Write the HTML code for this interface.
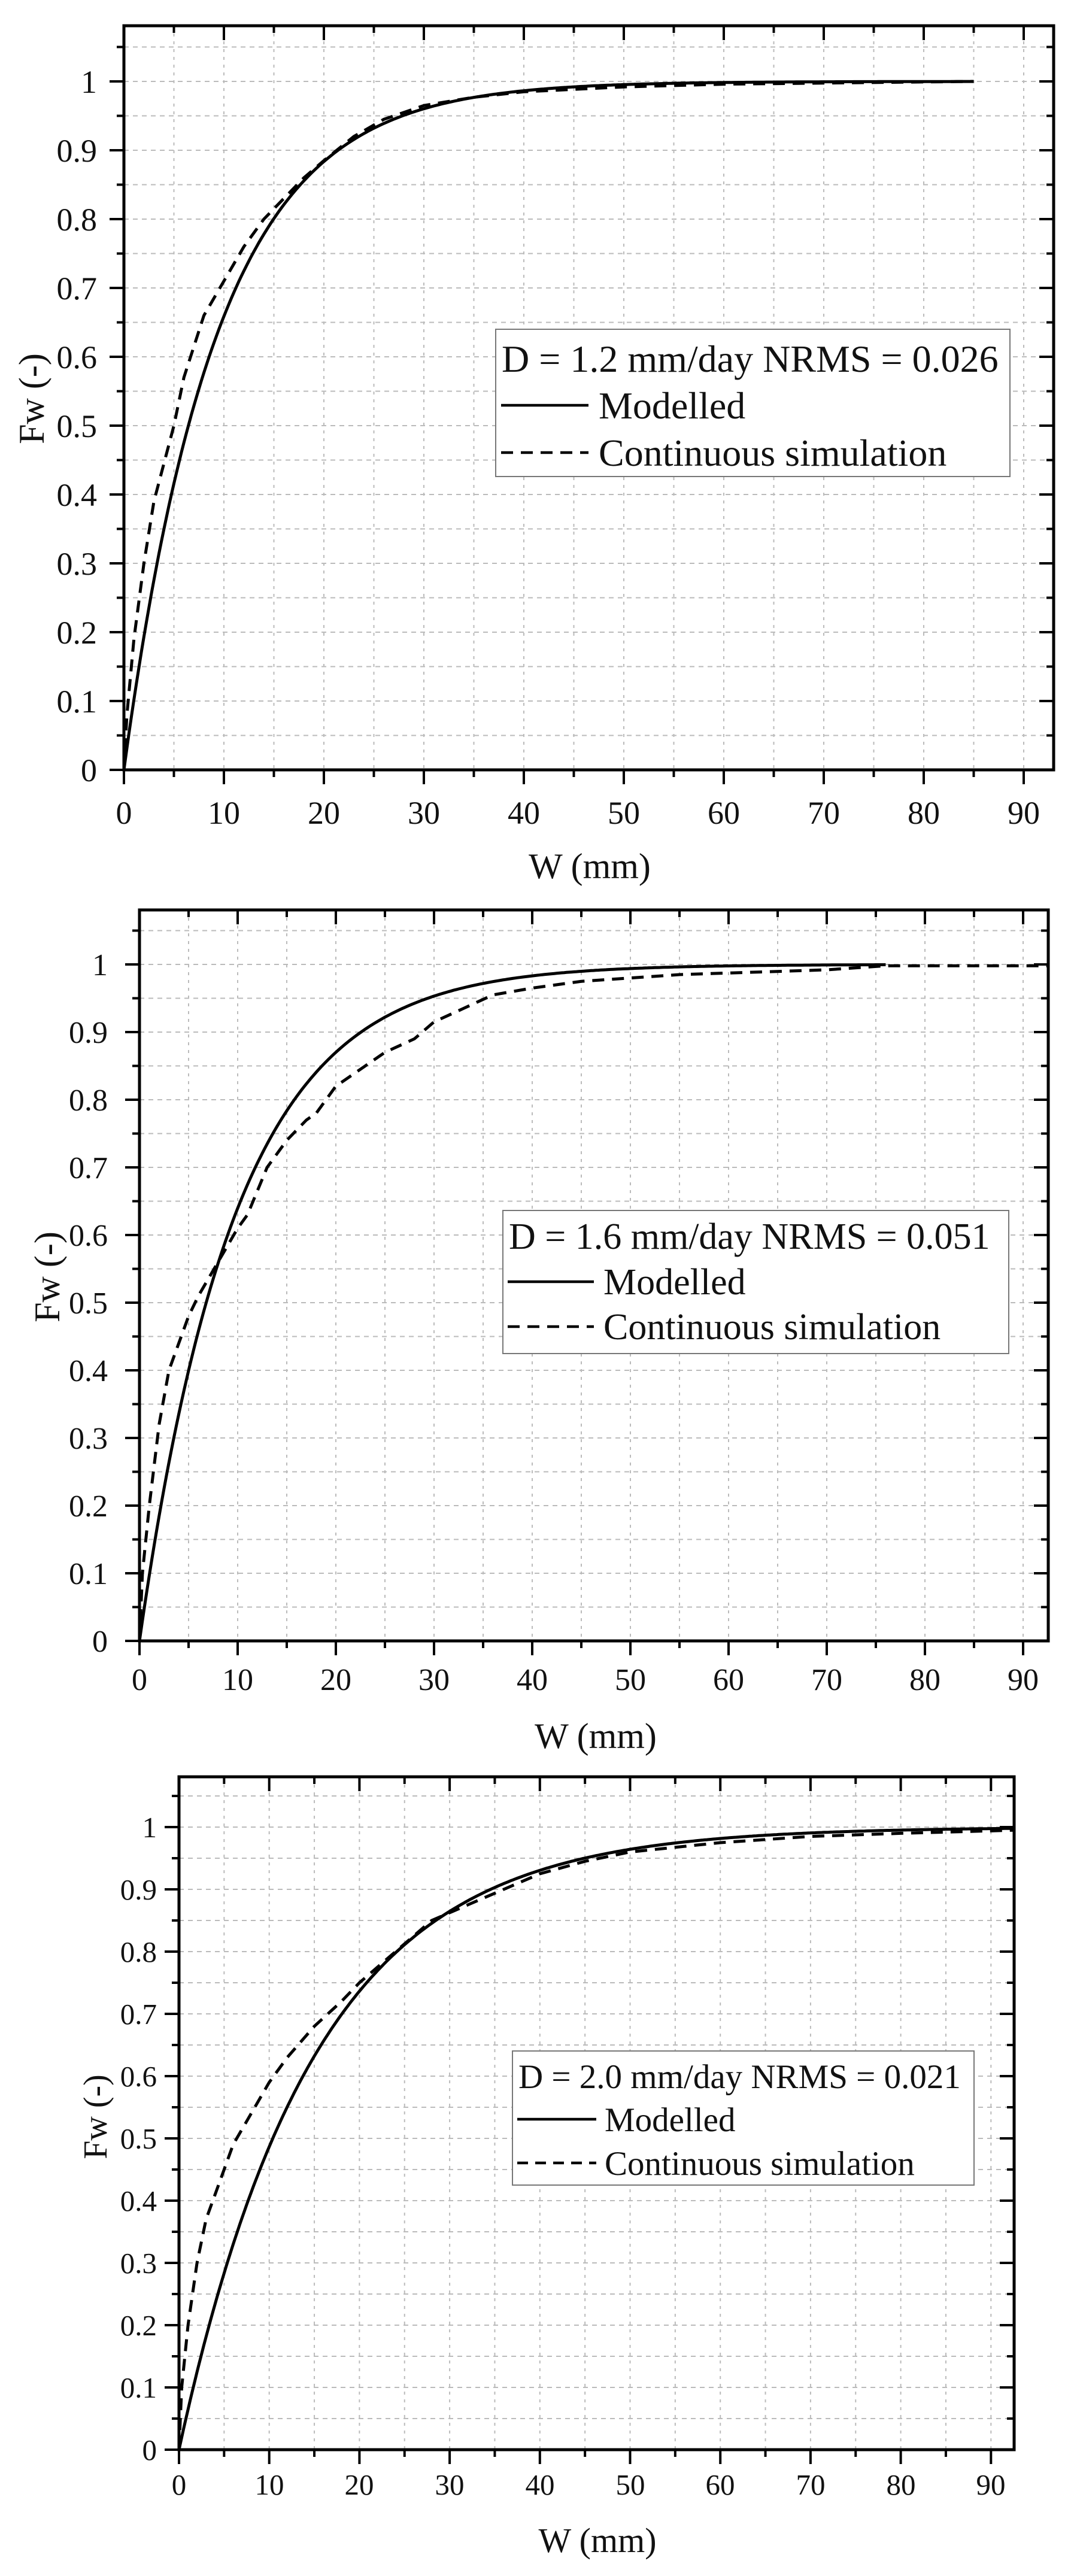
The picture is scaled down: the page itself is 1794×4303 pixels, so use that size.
<!DOCTYPE html>
<html><head><meta charset="utf-8"><style>
html,body{margin:0;padding:0;background:#fff}
svg{display:block}
text{font-family:"Liberation Serif",serif;fill:#111}
</style></head><body>
<svg id="s" width="1794" height="4303" viewBox="0 0 1794 4303" xmlns="http://www.w3.org/2000/svg">
<rect width="1794" height="4303" fill="#fff"/>
<g id="g1"></g><g id="g2"></g><g id="g3"></g>

<!-- Chart 1 text -->
<g font-size="54" text-anchor="middle">
<text x="207" y="1376">0</text><text x="374" y="1376">10</text><text x="541" y="1376">20</text><text x="708" y="1376">30</text><text x="875" y="1376">40</text><text x="1042" y="1376">50</text><text x="1209" y="1376">60</text><text x="1376" y="1376">70</text><text x="1543" y="1376">80</text><text x="1710" y="1376">90</text>
</g>
<g font-size="54" text-anchor="end">
<text x="162" y="1305">0</text><text x="162" y="1190">0.1</text><text x="162" y="1075">0.2</text><text x="162" y="960">0.3</text><text x="162" y="845">0.4</text><text x="162" y="730">0.5</text><text x="162" y="615">0.6</text><text x="162" y="500">0.7</text><text x="162" y="385">0.8</text><text x="162" y="270">0.9</text><text x="162" y="155">1</text>
</g>
<text x="985" y="1467" font-size="60" text-anchor="middle">W (mm)</text>
<text transform="translate(73,666) rotate(-90)" font-size="60" text-anchor="middle">Fw (-)</text>
<rect x="828" y="550" width="859" height="246" fill="#fff" stroke="#777" stroke-width="2"/>
<text x="838" y="621" font-size="64">D = 1.2 mm/day NRMS = 0.026</text>
<line x1="837" y1="677" x2="983" y2="677" stroke="#000" stroke-width="4.5"/>
<text x="1000" y="699" font-size="64">Modelled</text>
<line x1="837" y1="756" x2="983" y2="756" stroke="#000" stroke-width="4.5" stroke-dasharray="20,13"/>
<text x="1000" y="778" font-size="64">Continuous simulation</text>

<!-- Chart 2 text -->
<g font-size="52" text-anchor="middle">
<text x="233" y="2823">0</text><text x="397" y="2823">10</text><text x="561" y="2823">20</text><text x="725" y="2823">30</text><text x="889" y="2823">40</text><text x="1053" y="2823">50</text><text x="1217" y="2823">60</text><text x="1381" y="2823">70</text><text x="1545" y="2823">80</text><text x="1709" y="2823">90</text>
</g>
<g font-size="52" text-anchor="end">
<text x="180" y="2759">0</text><text x="180" y="2646">0.1</text><text x="180" y="2533">0.2</text><text x="180" y="2420">0.3</text><text x="180" y="2307">0.4</text><text x="180" y="2194">0.5</text><text x="180" y="2081">0.6</text><text x="180" y="1968">0.7</text><text x="180" y="1855">0.8</text><text x="180" y="1742">0.9</text><text x="180" y="1629">1</text>
</g>
<text x="995" y="2920" font-size="60" text-anchor="middle">W (mm)</text>
<text transform="translate(99,2133) rotate(-90)" font-size="60" text-anchor="middle">Fw (-)</text>
<rect x="840" y="2022" width="845" height="239" fill="#fff" stroke="#777" stroke-width="2"/>
<text x="850" y="2086" font-size="62">D = 1.6 mm/day NRMS = 0.051</text>
<line x1="848" y1="2141" x2="992" y2="2141" stroke="#000" stroke-width="4.5"/>
<text x="1008" y="2162" font-size="62">Modelled</text>
<line x1="848" y1="2216" x2="992" y2="2216" stroke="#000" stroke-width="4.5" stroke-dasharray="20,13"/>
<text x="1008" y="2237" font-size="62">Continuous simulation</text>

<!-- Chart 3 text -->
<g font-size="49" text-anchor="middle">
<text x="299" y="4167">0</text><text x="450" y="4167">10</text><text x="600" y="4167">20</text><text x="751" y="4167">30</text><text x="902" y="4167">40</text><text x="1053" y="4167">50</text><text x="1203" y="4167">60</text><text x="1354" y="4167">70</text><text x="1505" y="4167">80</text><text x="1655" y="4167">90</text>
</g>
<g font-size="49" text-anchor="end">
<text x="262" y="4109">0</text><text x="262" y="4005">0.1</text><text x="262" y="3901">0.2</text><text x="262" y="3797">0.3</text><text x="262" y="3693">0.4</text><text x="262" y="3589">0.5</text><text x="262" y="3485">0.6</text><text x="262" y="3381">0.7</text><text x="262" y="3277">0.8</text><text x="262" y="3173">0.9</text><text x="262" y="3069">1</text>
</g>
<text x="998" y="4263" font-size="58" text-anchor="middle">W (mm)</text>
<text transform="translate(178,3536) rotate(-90)" font-size="56" text-anchor="middle">Fw (-)</text>
<rect x="856" y="3426" width="771" height="224" fill="#fff" stroke="#777" stroke-width="2"/>
<text x="866" y="3488" font-size="57">D = 2.0 mm/day NRMS = 0.021</text>
<line x1="864" y1="3540" x2="996" y2="3540" stroke="#000" stroke-width="4.5"/>
<text x="1010" y="3560" font-size="57">Modelled</text>
<line x1="864" y1="3613" x2="996" y2="3613" stroke="#000" stroke-width="4.5" stroke-dasharray="18,12"/>
<text x="1010" y="3633" font-size="57">Continuous simulation</text>
</svg>
<script>
var NS="http://www.w3.org/2000/svg";
function el(p,t,a){var e=document.createElementNS(NS,t);for(var k in a)e.setAttribute(k,a[k]);p.appendChild(e);return e;}
function chart(id,c){
  var g=document.getElementById(id);
  var X=function(v){return c.x0+v*c.sx;}, Y=function(v){return c.y0-v*c.sy;};
  var L=c.x0,R=c.right,T=c.top,B=c.y0;
  for(var v=5;X(v)<R-2;v+=5) el(g,"line",{x1:X(v),y1:T,x2:X(v),y2:B,stroke:"#bbb","stroke-width":2,"stroke-dasharray":"5,8"});
  for(var i=1;Y(i*0.05)>T+2;i++) el(g,"line",{x1:L,y1:Y(i*0.05),x2:R,y2:Y(i*0.05),stroke:"#bbb","stroke-width":2,"stroke-dasharray":"8,7"});
  var m=[];for(var w=0;w<=c.mEnd;w+=0.25){m.push(X(w).toFixed(1)+","+Y(1-Math.exp(-w/c.a)).toFixed(1));}
  el(g,"polyline",{points:m.join(" "),fill:"none",stroke:"#000","stroke-width":5});
  var d=c.dash.map(function(p){return X(p[0]).toFixed(1)+","+Y(p[1]).toFixed(1);});
  el(g,"polyline",{points:d.join(" "),fill:"none",stroke:"#000","stroke-width":5,"stroke-dasharray":"20,13"});
  el(g,"rect",{x:L,y:T,width:R-L,height:B-T,fill:"none",stroke:"#000","stroke-width":5});
  for(var v=5;X(v)<R-2;v+=5){var mj=(v%10==0),len=mj?24:12;
    el(g,"line",{x1:X(v),y1:B,x2:X(v),y2:B+len,stroke:"#000","stroke-width":4});
    el(g,"line",{x1:X(v),y1:T,x2:X(v),y2:T+len,stroke:"#000","stroke-width":4});}
  el(g,"line",{x1:X(0),y1:B,x2:X(0),y2:B+24,stroke:"#000","stroke-width":4});
  for(var i=0;Y(i*0.05)>T+2;i++){var mj=(i%2==0),len=mj?24:12,y=Y(i*0.05);
    el(g,"line",{x1:L-len,y1:y,x2:L,y2:y,stroke:"#000","stroke-width":4});
    el(g,"line",{x1:R-len,y1:y,x2:R,y2:y,stroke:"#000","stroke-width":4});}
}
chart("g1",{x0:207,sx:16.7,y0:1286,sy:1150,top:43,right:1760,a:9.3,mEnd:85,
 dash:[[0,0],[0.3,0.08],[1,0.19],[2,0.3],[3,0.39],[5,0.5],[6,0.57],[8,0.66],[10,0.71],[12,0.76],[14,0.8],[16,0.83],[18,0.86],[20,0.885],[23,0.92],[26,0.945],[30,0.965],[35,0.977],[40,0.985],[50,0.992],[60,0.996],[85,1.0]]});
chart("g2",{x0:233,sx:16.4,y0:2741,sy:1130,top:1520,right:1751,a:9.8,mEnd:76,
 dash:[[0,0],[0.3,0.1],[1,0.2],[2,0.32],[3,0.4],[5,0.48],[6,0.51],[8,0.56],[10,0.61],[11,0.63],[13,0.7],[15,0.74],[17,0.77],[18,0.78],[20,0.82],[22,0.84],[25,0.87],[28,0.89],[30,0.915],[33,0.935],[36,0.955],[40,0.965],[45,0.975],[55,0.985],[70,0.992],[76,0.998],[92.5,0.998]]});
chart("g3",{x0:299,sx:15.07,y0:4092,sy:1040,top:2968,right:1694,a:15,mEnd:92.6,
 dash:[[0,0],[0.3,0.1],[1,0.2],[2,0.3],[3,0.37],[4,0.41],[5,0.45],[6,0.49],[8,0.54],[10,0.59],[12,0.63],[15,0.68],[18,0.72],[20,0.75],[24,0.8],[28,0.85],[32,0.875],[36,0.9],[40,0.925],[45,0.945],[50,0.96],[60,0.975],[70,0.985],[80,0.99],[92.6,0.995]]});
</script>
</body></html>
